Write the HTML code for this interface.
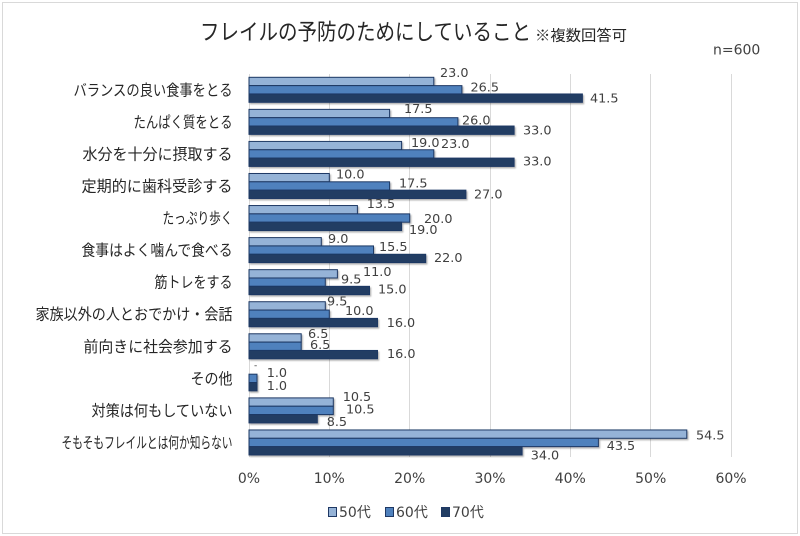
<!DOCTYPE html>
<html>
<head>
<meta charset="utf-8">
<style>
html,body{margin:0;padding:0;background:#fff;}
svg{display:block;}
.cat{font-family:"Liberation Sans","Noto Sans CJK JP",sans-serif;font-size:15.5px;fill:#262626;}
.num{font-family:"DejaVu Sans","Liberation Sans",sans-serif;font-size:12.8px;fill:#404040;}
.tick{font-family:"DejaVu Sans","Liberation Sans",sans-serif;font-size:14px;fill:#404040;}
.leg{font-family:"DejaVu Sans","Noto Sans CJK JP",sans-serif;font-size:14px;fill:#404040;}
</style>
</head>
<body>
<svg width="800" height="536" viewBox="0 0 800 536" xmlns="http://www.w3.org/2000/svg">
<defs>
<filter id="sh" x="-5%" y="-20%" width="110%" height="160%">
<feDropShadow dx="1.2" dy="1.5" stdDeviation="0.8" flood-color="#000" flood-opacity="0.3"/>
</filter>
</defs>
<rect x="0" y="0" width="800" height="536" fill="#fff"/>
<rect x="2.5" y="2.5" width="795" height="531" fill="none" stroke="#d9d9d9" stroke-width="1"/>

<!-- title -->
<text x="200" y="40" font-family="'Liberation Sans','Noto Sans CJK JP',sans-serif" font-size="22.5" fill="#262626" textLength="331" lengthAdjust="spacingAndGlyphs">フレイルの予防のためにしていること</text>
<text x="535" y="40.5" font-family="'Liberation Sans','Noto Sans CJK JP',sans-serif" font-size="15" fill="#262626" textLength="92" lengthAdjust="spacingAndGlyphs">※複数回答可</text>
<text x="713" y="54.3" class="tick" fill="#262626">n=600</text>

<!-- gridlines -->
<g stroke="#d9d9d9" stroke-width="1">
<line x1="249.5" y1="74" x2="249.5" y2="457"/>
<line x1="329.5" y1="74" x2="329.5" y2="457"/>
<line x1="409.5" y1="74" x2="409.5" y2="457"/>
<line x1="490.5" y1="74" x2="490.5" y2="457"/>
<line x1="570.5" y1="74" x2="570.5" y2="457"/>
<line x1="650.5" y1="74" x2="650.5" y2="457"/>
<line x1="731.5" y1="74" x2="731.5" y2="457"/>
</g>

<!-- bars -->
<g stroke="#1f3864" stroke-width="1" filter="url(#sh)">
<g fill="#95b3d7">
<rect x="249" y="77.3" width="184.8" height="8.33"/>
<rect x="249" y="109.36" width="140.6" height="8.33"/>
<rect x="249" y="141.42" width="152.6" height="8.33"/>
<rect x="249" y="173.48" width="80.3" height="8.33"/>
<rect x="249" y="205.54" width="108.4" height="8.33"/>
<rect x="249" y="237.6" width="72.3" height="8.33"/>
<rect x="249" y="269.66" width="88.4" height="8.33"/>
<rect x="249" y="301.72" width="76.3" height="8.33"/>
<rect x="249" y="333.78" width="52.2" height="8.33"/>
<rect x="249" y="397.9" width="84.3" height="8.33"/>
<rect x="249" y="429.96" width="437.8" height="8.33"/>
</g>
<g fill="#4f81bd">
<rect x="249" y="85.63" width="212.9" height="8.33"/>
<rect x="249" y="117.69" width="208.9" height="8.33"/>
<rect x="249" y="149.75" width="184.8" height="8.33"/>
<rect x="249" y="181.81" width="140.6" height="8.33"/>
<rect x="249" y="213.87" width="160.7" height="8.33"/>
<rect x="249" y="245.93" width="124.5" height="8.33"/>
<rect x="249" y="277.99" width="76.3" height="8.33"/>
<rect x="249" y="310.05" width="80.3" height="8.33"/>
<rect x="249" y="342.11" width="52.2" height="8.33"/>
<rect x="249" y="374.17" width="8.0" height="8.33"/>
<rect x="249" y="406.23" width="84.3" height="8.33"/>
<rect x="249" y="438.29" width="349.4" height="8.33"/>
</g>
<g fill="#223d63">
<rect x="249" y="93.97" width="333.4" height="8.33"/>
<rect x="249" y="126.03" width="265.1" height="8.33"/>
<rect x="249" y="158.09" width="265.1" height="8.33"/>
<rect x="249" y="190.15" width="216.9" height="8.33"/>
<rect x="249" y="222.21" width="152.6" height="8.33"/>
<rect x="249" y="254.27" width="176.7" height="8.33"/>
<rect x="249" y="286.33" width="120.5" height="8.33"/>
<rect x="249" y="318.39" width="128.5" height="8.33"/>
<rect x="249" y="350.45" width="128.5" height="8.33"/>
<rect x="249" y="382.51" width="8.0" height="8.33"/>
<rect x="249" y="414.57" width="68.3" height="8.33"/>
<rect x="249" y="446.63" width="273.1" height="8.33"/>
</g>
</g>

<!-- category labels -->
<g class="cat" text-anchor="end">
<text x="232.5" y="95.3" textLength="159" lengthAdjust="spacingAndGlyphs">バランスの良い食事をとる</text>
<text x="232.5" y="127.4" textLength="99" lengthAdjust="spacingAndGlyphs">たんぱく質をとる</text>
<text x="232.5" y="159.4" textLength="150" lengthAdjust="spacingAndGlyphs">水分を十分に摂取する</text>
<text x="232.5" y="191.5" textLength="151" lengthAdjust="spacingAndGlyphs">定期的に歯科受診する</text>
<text x="232.5" y="223.5" textLength="70" lengthAdjust="spacingAndGlyphs">たっぷり歩く</text>
<text x="232.5" y="255.6" textLength="151" lengthAdjust="spacingAndGlyphs">食事はよく噛んで食べる</text>
<text x="232.5" y="287.7" textLength="78" lengthAdjust="spacingAndGlyphs">筋トレをする</text>
<text x="232.5" y="319.7" textLength="197" lengthAdjust="spacingAndGlyphs">家族以外の人とおでかけ・会話</text>
<text x="232.5" y="351.8" textLength="149" lengthAdjust="spacingAndGlyphs">前向きに社会参加する</text>
<text x="232.5" y="383.8" textLength="42" lengthAdjust="spacingAndGlyphs">その他</text>
<text x="232.5" y="415.9" textLength="141" lengthAdjust="spacingAndGlyphs">対策は何もしていない</text>
<text x="232.5" y="448" textLength="171" lengthAdjust="spacingAndGlyphs">そもそもフレイルとは何か知らない</text>
</g>

<!-- data labels -->
<g class="num">
<text x="440" y="77">23.0</text>
<text x="470.5" y="91.5">26.5</text>
<text x="590" y="102.5">41.5</text>

<text x="404" y="113">17.5</text>
<text x="462" y="124.5">26.0</text>
<text x="523" y="134.5">33.0</text>

<text x="411" y="147">19.0</text>
<text x="441" y="148">23.0</text>
<text x="523" y="165.5">33.0</text>

<text x="336" y="178.5">10.0</text>
<text x="399" y="187.5">17.5</text>
<text x="474" y="198.5">27.0</text>

<text x="366.7" y="208">13.5</text>
<text x="424" y="223">20.0</text>
<text x="409" y="234">19.0</text>

<text x="328" y="243">9.0</text>
<text x="379" y="251.2">15.5</text>
<text x="434" y="262.2">22.0</text>

<text x="363" y="276.2">11.0</text>
<text x="341" y="283.5">9.5</text>
<text x="378" y="293.5">15.0</text>

<text x="327" y="305.5">9.5</text>
<text x="345" y="315.2">10.0</text>
<text x="386.7" y="326.8">16.0</text>

<text x="308" y="337.8">6.5</text>
<text x="310" y="348.8">6.5</text>
<text x="387" y="357.8">16.0</text>

<text x="254" y="368" font-size="9">-</text>
<text x="266.7" y="376.8">1.0</text>
<text x="266.7" y="390.2">1.0</text>

<text x="342.7" y="401">10.5</text>
<text x="346" y="413.5">10.5</text>
<text x="326.7" y="426.2">8.5</text>

<text x="696" y="439.5">54.5</text>
<text x="606.7" y="450.2">43.5</text>
<text x="530.7" y="459.5">34.0</text>
</g>

<!-- tick labels -->
<g class="tick" text-anchor="middle">
<text x="249" y="483">0%</text>
<text x="329.3" y="483">10%</text>
<text x="409.7" y="483">20%</text>
<text x="490" y="483">30%</text>
<text x="570.3" y="483">40%</text>
<text x="650.7" y="483">50%</text>
<text x="731" y="483">60%</text>
</g>

<!-- legend -->
<g stroke="#1f3864" stroke-width="1">
<rect x="328.5" y="507.5" width="8" height="9" fill="#95b3d7"/>
<rect x="385.5" y="507.5" width="8" height="9" fill="#4f81bd"/>
<rect x="441.5" y="507.5" width="8" height="9" fill="#223d63"/>
</g>
<g class="leg">
<text x="339" y="517">50代</text>
<text x="396" y="517">60代</text>
<text x="452" y="517">70代</text>
</g>
</svg>
</body>
</html>
